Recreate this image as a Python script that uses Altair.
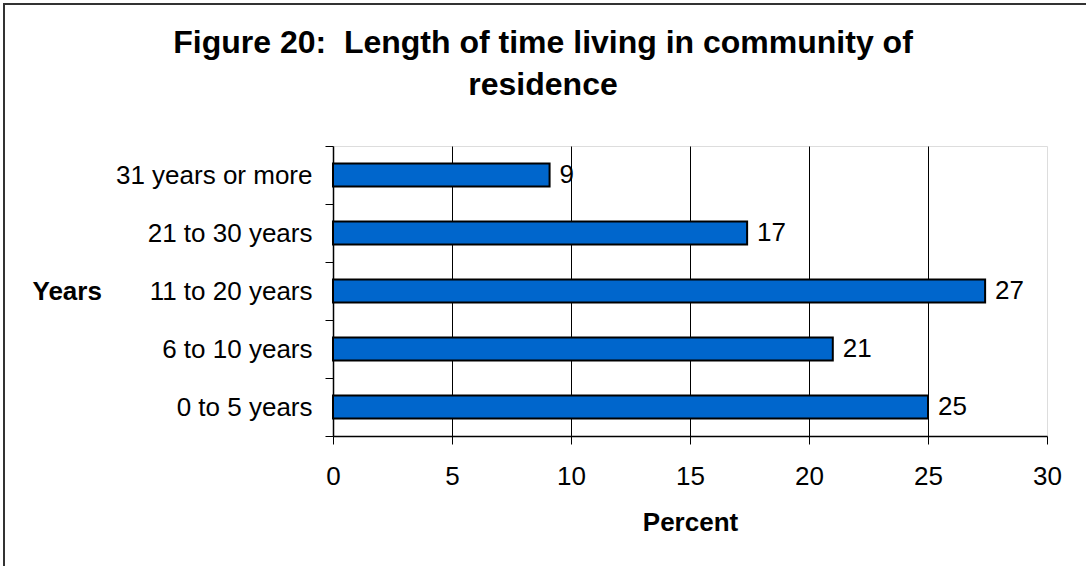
import altair as alt
import pandas as pd

categories = ["31 years or more", "21 to 30 years", "11 to 20 years", "6 to 10 years", "0 to 5 years"]
values = [9.1, 17.4, 27.4, 21.0, 25.0]
labels = ["9", "17", "27", "21", "25"]
x_ticks = [0, 5, 10, 15, 20, 25, 30]

df = pd.DataFrame({"cat": categories, "val": values, "lab": labels})

FONT = "Liberation Sans"

x_enc = alt.X(
    "val:Q",
    scale=alt.Scale(domain=[0, 30], nice=False, zero=True),
    axis=alt.Axis(
        values=x_ticks,
        title="Percent",
        titleFont=FONT,
        titleFontSize=26,
        titleFontWeight="bold",
        titleColor="black",
        titleY=73,
        titleBaseline="top",
        labelFont=FONT,
        labelFontSize=26,
        labelColor="black",
        labelPadding=19,
        labelFlush=False,
        tickSize=8,
        tickColor="black",
        domainColor="black",
        domainWidth=1.5,
        grid=True,
        gridColor={"condition": {"test": "datum.value === 0 || datum.value === 30", "value": "transparent"}, "value": "black"},
        gridWidth=1,
    ),
)

y_enc = alt.Y(
    "cat:N",
    sort=categories,
    scale=alt.Scale(paddingInner=0, paddingOuter=0),
    axis=alt.Axis(
        title="Years",
        titleFont=FONT,
        titleFontSize=26,
        titleFontWeight="bold",
        titleColor="black",
        titleAngle=0,
        titleAlign="left",
        titleBaseline="middle",
        titleX=-301,
        titleY=145,
        labelFont=FONT,
        labelFontSize=26,
        labelColor="black",
        labelPadding=13,
        labelLimit=0,
        tickSize=8,
        tickColor="black",
        tickBand="extent",
        domainColor="black",
        domainWidth=1.5,
        grid=False,
    ),
)

bars = alt.Chart(df).mark_bar(
    color="#0066CC", stroke="black", strokeWidth=2, height=alt.RelativeBandSize(0.4)
).encode(x=x_enc, y=y_enc)

text = alt.Chart(df).mark_text(
    align="left", baseline="middle", dx=10, font=FONT, fontSize=26, color="black"
).encode(x="val:Q", y=alt.Y("cat:N", sort=categories), text="lab:N")

frame = alt.Chart(pd.DataFrame({"a": [0]})).mark_rect(
    fillOpacity=0, stroke="#333333", strokeWidth=2
).encode(
    x=alt.value(-329), x2=alt.value(760), y=alt.value(-142), y2=alt.value(430)
)

chart = alt.layer(frame, bars, text).properties(
    width=714,
    height=290,
    title=alt.TitleParams(
        text=["Figure 20:\u00a0 Length of time living in community of", "residence"],
        font=FONT,
        fontSize=32,
        fontWeight="bold",
        color="black",
        anchor="middle",
        dx=-147,
        lineHeight=42,
        offset=-99,
    ),
    autosize=alt.AutoSizeParams(type="none"),
    padding={"left": 333, "top": 146, "right": 39, "bottom": 130},
).configure_view(
    stroke="#808080", strokeWidth=2
).configure(background="white")

chart.save("out.html", embed_options={"renderer": "svg", "actions": False})
